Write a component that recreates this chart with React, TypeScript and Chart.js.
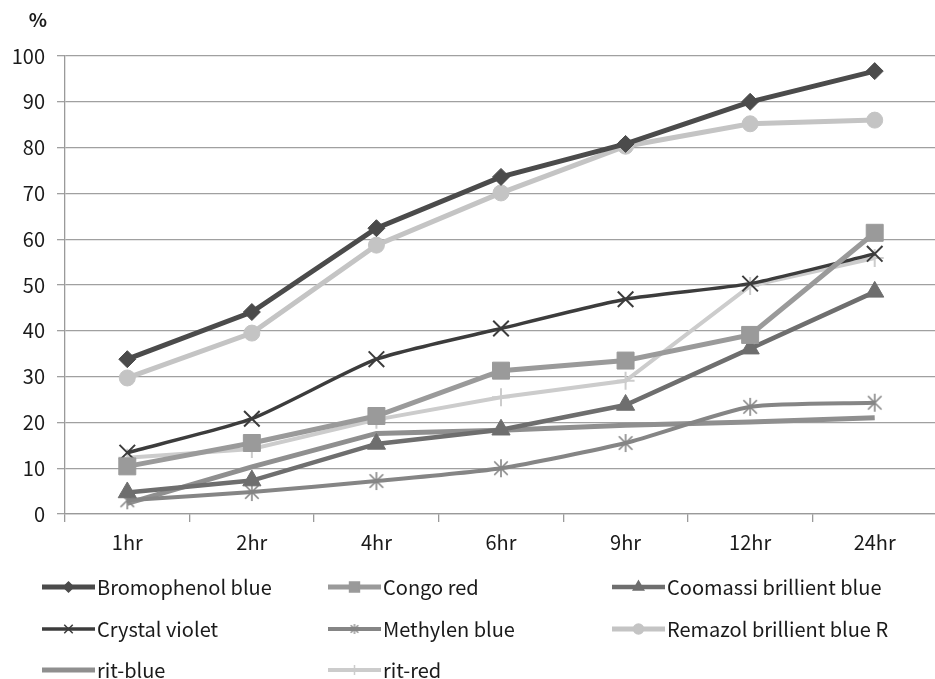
import React, { useEffect, useRef } from "react";
import { Chart, registerables } from "chart.js";
import { drawPoint } from "chart.js/helpers";

Chart.register(...registerables);

const categories = ["1hr", "2hr", "4hr", "6hr", "9hr", "12hr", "24hr"];
const bromophenolBlue = [33.8, 44.1, 62.4, 73.6, 80.8, 90.0, 96.7];
const congoRed = [10.4, 15.5, 21.4, 31.3, 33.5, 39.1, 61.4];
const coomassiBrillientBlue = [4.7, 7.3, 15.3, 18.4, 23.8, 36.1, 48.5];
const crystalViolet = [13.4, 20.8, 33.8, 40.5, 46.9, 50.3, 56.8];
const methylenBlue = [3.0, 4.8, 7.2, 10.0, 15.5, 23.4, 24.3];
const remazolBrillientBlueR = [29.7, 39.5, 58.7, 70.1, 80.3, 85.2, 86.0];
const ritBlue = [2.3, 10.3, 17.6, 18.3, 19.4, 20.1, 21.0];
const ritRed = [12.3, 14.2, 20.6, 25.5, 29.1, 49.8, 55.9];
const yTickValues = [0, 10, 20, 30, 40, 50, 60, 70, 80, 90, 100];

const FONT = "'Noto Sans CJK KR', 'Open Sans', sans-serif";

function asterisk(r: number, color: string, lw: number) {
  const c = document.createElement("canvas");
  const s = Math.ceil(r * 2 + lw + 2);
  c.width = s;
  c.height = s;
  const ctx = c.getContext("2d")!;
  ctx.strokeStyle = color;
  ctx.lineWidth = lw;
  const m = s / 2;
  const d = r * 0.75;
  ctx.beginPath();
  ctx.moveTo(m - d, m - d);
  ctx.lineTo(m + d, m + d);
  ctx.moveTo(m + d, m - d);
  ctx.lineTo(m - d, m + d);
  ctx.moveTo(m, m - r);
  ctx.lineTo(m, m + r);
  ctx.stroke();
  return c;
}

export default function App() {
  const ref = useRef<HTMLCanvasElement | null>(null);

  useEffect(() => {
    if (!ref.current) return;
    const cMethylen = "#858585";
    const astBig = asterisk(9, cMethylen, 1.6);
    const astSmall = asterisk(5, cMethylen, 1.3);

    const series = [
      { label: "Bromophenol blue", data: bromophenolBlue, color: "#4b4b4b", width: 5, style: "rectRot", r: 8.5, lr: 5 },
      { label: "Congo red", data: congoRed, color: "#9a9a9a", width: 5, style: "rect", r: 12, lr: 7 },
      { label: "Coomassi brillient blue", data: coomassiBrillientBlue, color: "#6e6e6e", width: 4.5, style: "triangle", r: 10.5, lr: 6 },
      { label: "Crystal violet", data: crystalViolet, color: "#3c3c3c", width: 3.5, style: "crossRot", r: 11, lr: 6 },
      { label: "Methylen blue", data: methylenBlue, color: cMethylen, width: 4, style: astBig, legendStyle: astSmall, r: 9, lr: 5 },
      { label: "Remazol brillient blue R", data: remazolBrillientBlueR, color: "#c4c4c4", width: 5, style: "circle", r: 8, lr: 5 },
      { label: "rit-blue", data: ritBlue, color: "#8f8f8f", width: 5, style: false, r: 0, lr: 0 },
      { label: "rit-red", data: ritRed, color: "#cccccc", width: 4, style: "cross", r: 9, lr: 5 },
    ];

    const legendPlugin = {
      id: "gridLegend",
      afterDraw(chart: any) {
        const ctx = chart.ctx;
        ctx.save();
        ctx.fillStyle = "#1a1a1a";
        ctx.font = `bold 19px ${FONT}`;
        ctx.textAlign = "center";
        ctx.textBaseline = "middle";
        ctx.fillText("%", 38, 20);

        const colX = [42, 328, 612];
        const rowY = [587, 629, 670];
        series.forEach((s, i) => {
          const x = colX[i % 3];
          const y = rowY[Math.floor(i / 3)];
          ctx.strokeStyle = s.color;
          ctx.lineWidth = s.width;
          ctx.lineCap = "butt";
          ctx.beginPath();
          ctx.moveTo(x, y);
          ctx.lineTo(x + 53, y);
          ctx.stroke();
          if (s.style) {
            ctx.fillStyle = s.color;
            ctx.strokeStyle = s.color;
            ctx.lineWidth = 1.5;
            drawPoint(ctx, { pointStyle: (s as any).legendStyle || s.style, radius: s.lr, borderWidth: 1.5, rotation: 0 } as any, x + 26.5, y);
          }
          ctx.fillStyle = "#1a1a1a";
          ctx.font = `20px ${FONT}`;
          ctx.textAlign = "left";
          ctx.textBaseline = "middle";
          ctx.fillText(s.label, x + 55, y);
        });
        ctx.restore();
      },
    };

    const chart = new Chart(ref.current, {
      type: "line",
      data: {
        labels: categories,
        datasets: series.map((s) => ({
          label: s.label,
          data: s.data,
          borderColor: s.color,
          backgroundColor: s.color,
          borderWidth: s.width,
          pointStyle: s.style as any,
          pointRadius: s.style ? s.r : 0,
          pointBorderWidth: s.style === "crossRot" || s.style === "cross" ? 2 : 1,
          pointBorderColor: s.color,
          pointBackgroundColor: s.color,
          tension: s.label === "Crystal violet" || s.label === "Methylen blue" ? 0.2 : 0,
          fill: false,
        })),
      },
      options: {
        responsive: false,
        animation: false,
        layout: { padding: { left: 0, right: 6, top: 56, bottom: 120 } },
        plugins: {
          legend: { display: false },
          tooltip: { enabled: false },
        },
        scales: {
          x: {
            offset: true,
            afterFit: (scale: any) => {
              scale.height = 45;
            },
            grid: {
              offset: true,
              drawOnChartArea: false,
              drawTicks: true,
              tickLength: 8,
              color: "#9a9a9a",
              lineWidth: 1.3,
            },
            border: { display: true, color: "#9a9a9a", width: 1.3 },
            ticks: {
              color: "#1a1a1a",
              font: { family: FONT, size: 20 },
              padding: 8,
              maxRotation: 0,
            },
          },
          y: {
            min: 0,
            max: 100,
            afterFit: (scale: any) => {
              scale.width = 65;
            },
            afterBuildTicks: (scale: any) => {
              scale.ticks = yTickValues.map((v) => ({ value: v }));
            },
            grid: {
              color: "#a0a0a0",
              lineWidth: 1.3,
              drawTicks: true,
              tickLength: 8,
            },
            border: { display: true, color: "#9a9a9a", width: 1.3 },
            ticks: {
              color: "#1a1a1a",
              font: { family: FONT, size: 20 },
              padding: 12,
            },
          },
        },
      },
      plugins: [legendPlugin],
    });
    return () => chart.destroy();
  }, []);

  return (
    <div style={{ position: "absolute", left: 0, top: 0, width: 935, height: 679, overflow: "hidden", background: "#fff" }}>
      <canvas ref={ref} width={950} height={679} style={{ width: 950, height: 679, display: "block" }} />
    </div>
  );
}
